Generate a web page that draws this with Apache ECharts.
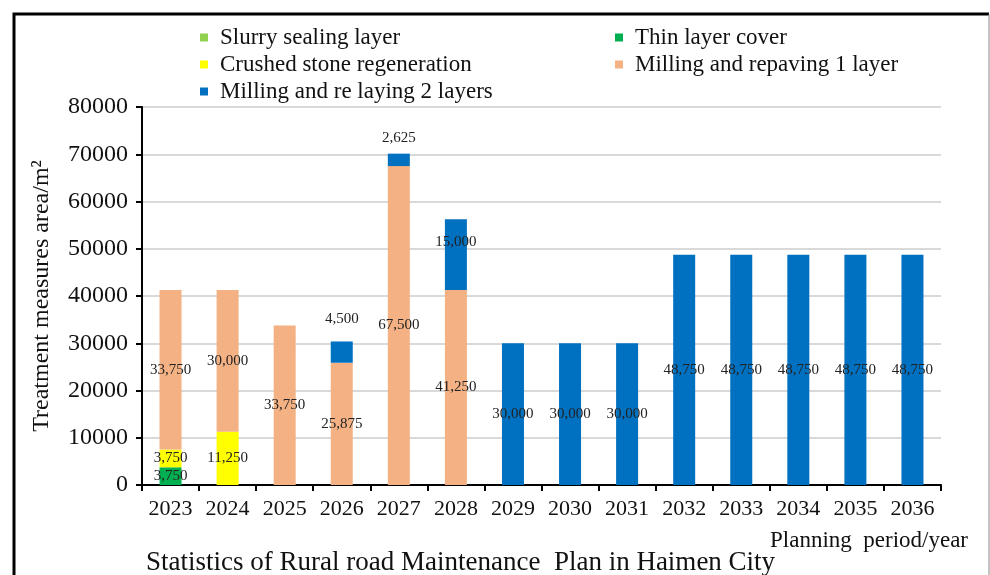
<!DOCTYPE html>
<html>
<head>
<meta charset="utf-8">
<script src="https://cdn.jsdelivr.net/npm/echarts@6/dist/echarts.min.js"></script>
<style>
  html, body { margin: 0; padding: 0; background: #fff; }
  #chart { width: 990px; height: 575px; }
</style>
</head>
<body>
<div id="chart"></div>
<script>
// years on the x axis
const years = ['2023', '2024', '2025', '2026', '2027', '2028', '2029',
  '2030', '2031', '2032', '2033', '2034', '2035', '2036'];

// treatment areas, m2 (null = no bar)
const slurrySealing = [null, null, null, null, null, null, null, null, null, null, null, null, null, null];
const thinLayer = [3750, null, null, null, null, null, null, null, null, null, null, null, null, null];
const crushedStone = [3750, 11250, null, null, null, null, null, null, null, null, null, null, null, null];
const milling1 = [33750, 30000, 33750, 25875, 67500, 41250, null, null, null, null, null, null, null, null];
const milling2 = [null, null, null, 4500, 2625, 15000, 30000, 30000, 30000, 48750, 48750, 48750, 48750, 48750];

const yTicks = [0, 10000, 20000, 30000, 40000, 50000, 60000, 70000, 80000];

const FONT = 'Liberation Serif';

// label placement tweaks for a few points (index -> label option)
const labelTweaks = {
  'Milling and re laying 2 layers': {
    3: { position: 'top', distance: 15 },
    4: { position: 'top', distance: 8 },
    5: { offset: [0, -13] }
  }
};

function fmt(v) {
  return v.toLocaleString('en-US');
}

function makeSeries(name, values, color) {
  const tweaks = labelTweaks[name] || {};
  return {
    name: name,
    type: 'bar',
    stack: 'total',
    barWidth: 22,
    itemStyle: { color: color },
    label: {
      show: true,
      position: 'inside',
      color: '#222',
      fontFamily: FONT,
      fontSize: 15,
      formatter: p => fmt(p.value)
    },
    data: values.map((v, i) => tweaks[i] && v != null ? { value: v, label: tweaks[i] } : v)
  };
}

const legendCommon = {
  orient: 'vertical',
  top: 21,
  itemWidth: 8,
  itemHeight: 8,
  itemGap: 4,
  icon: 'rect',
  textStyle: { fontFamily: FONT, fontSize: 23, color: '#111', padding: [0, 0, 0, 7] }
};

const chart = echarts.init(document.getElementById('chart'));

chart.setOption({
  animation: false,
  backgroundColor: '#fff',
  textStyle: { fontFamily: FONT },
  title: [{
    text: 'Statistics of Rural road Maintenance  Plan in Haimen City',
    left: 141,
    top: 544,
    textStyle: { fontFamily: FONT, fontWeight: 'normal', fontSize: 27, color: '#111' }
  }, {
    text: 'Planning  period/year',
    left: 765,
    top: 524,
    textStyle: { fontFamily: FONT, fontWeight: 'normal', fontSize: 23, color: '#111' }
  }],
  legend: [Object.assign({}, legendCommon, {
    left: 195,
    data: ['Slurry sealing layer', 'Crushed stone regeneration', 'Milling and re laying 2 layers']
  }), Object.assign({}, legendCommon, {
    left: 610,
    data: ['Thin layer cover', 'Milling and repaving 1 layer']
  })],
  grid: { left: 142, right: 49, top: 107, bottom: 90, containLabel: false },
  xAxis: {
    type: 'category',
    data: years,
    axisLine: { lineStyle: { color: '#000', width: 2 } },
    axisTick: { show: true, interval: 0, length: 6, lineStyle: { color: '#000', width: 2 } },
    axisLabel: { interval: 0, hideOverlap: false, fontFamily: FONT, fontSize: 22, color: '#111', margin: 13 }
  },
  yAxis: {
    type: 'value',
    min: yTicks[0],
    max: yTicks[yTicks.length - 1],
    interval: yTicks[1] - yTicks[0],
    name: 'Treatment measures area/m²',
    nameLocation: 'middle',
    nameGap: 88,
    nameTextStyle: { fontFamily: FONT, fontSize: 24, color: '#111' },
    axisLine: { show: true, lineStyle: { color: '#000', width: 2 } },
    axisTick: { show: true, length: 6, lineStyle: { color: '#000', width: 2 } },
    axisLabel: { fontFamily: FONT, fontSize: 24, color: '#111', margin: 14, formatter: v => String(v) },
    splitLine: { lineStyle: { color: '#d9d9d9', width: 2 } }
  },
  graphic: [{
    type: 'polyline',
    shape: { points: [[14, 575], [14, 14], [989, 14]] },
    style: { stroke: '#000', lineWidth: 3, fill: null }
  }, {
    type: 'line',
    shape: { x1: 989, y1: 14, x2: 989, y2: 575 },
    style: { stroke: '#888', lineWidth: 1 }
  }],
  series: [
    makeSeries('Slurry sealing layer', slurrySealing, '#92d050'),
    makeSeries('Thin layer cover', thinLayer, '#00b050'),
    makeSeries('Crushed stone regeneration', crushedStone, '#ffff00'),
    makeSeries('Milling and repaving 1 layer', milling1, '#f4b183'),
    makeSeries('Milling and re laying 2 layers', milling2, '#0070c0')
  ]
});
</script>
</body>
</html>
